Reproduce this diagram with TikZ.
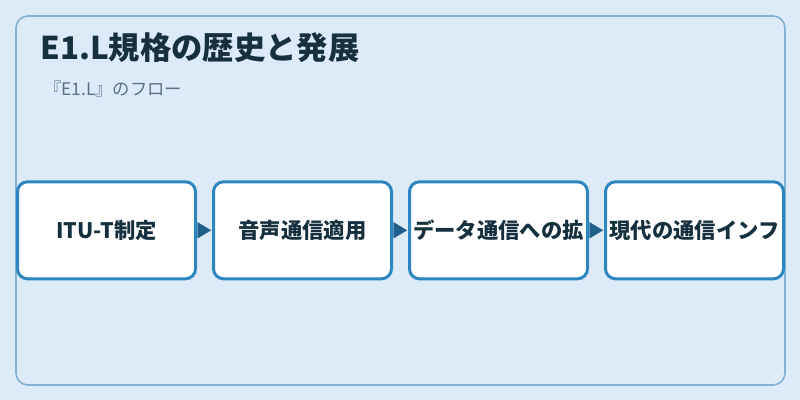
\documentclass[tikz,border=0pt]{standalone}
\usepackage{fontspec}
\setmainfont{Noto Sans CJK JP}
\usetikzlibrary{arrows.meta}
\definecolor{bgc}{HTML}{DCEBF7}
\definecolor{framec}{HTML}{7FB3D5}
\definecolor{boxc}{HTML}{2E86C1}
\definecolor{arrc}{HTML}{1F5F8B}
\definecolor{titlec}{HTML}{17303F}
\definecolor{subc}{HTML}{5A7189}
\tikzset{
  stepbox/.style={draw=boxc, fill=white, line width=2.25pt, rounded corners=7.5pt,
    minimum width=133.5pt, minimum height=72.75pt, inner sep=0pt,
    font=\fontsize{16pt}{18pt}\selectfont\bfseries, text=titlec},
  flowarrow/.style={draw=arrc, line width=0.1pt, -{Triangle[length=10pt,width=12pt]}, arrc,
    shorten <=0.4pt, shorten >=0.75pt}
}
\begin{document}
\begin{tikzpicture}[x=0.75pt,y=-0.75pt]
\useasboundingbox (0,0) rectangle (800,400);
\fill[bgc] (0,0) rectangle (800,400);
\draw[framec, line width=1.2pt, rounded corners=9pt] (16,16) rectangle (785,385);
\node[anchor=base west, inner sep=0pt, text=titlec, font=\fontsize{23.5pt}{26pt}\selectfont\bfseries] (title) at (40,59) {E1.L規格の歴史と発展};
\node[anchor=base west, inner sep=0pt, text=subc, font=\fontsize{13pt}{16pt}\selectfont] (sub) at (44,95) {『E1.L』のフロー};
\node[stepbox] (b1) at (106.5,230.3) {ITU-T制定};
\node[stepbox] (b2) at (302.5,230.3) {音声通信適用};
\node[stepbox] (b3) at (498.5,230.3) {データ通信への拡};
\node[stepbox] (b4) at (694.5,230.3) {現代の通信インフ};
\draw[flowarrow] (b1) -- (b2);
\draw[flowarrow] (b2) -- (b3);
\draw[flowarrow] (b3) -- (b4);
\end{tikzpicture}
\end{document}
